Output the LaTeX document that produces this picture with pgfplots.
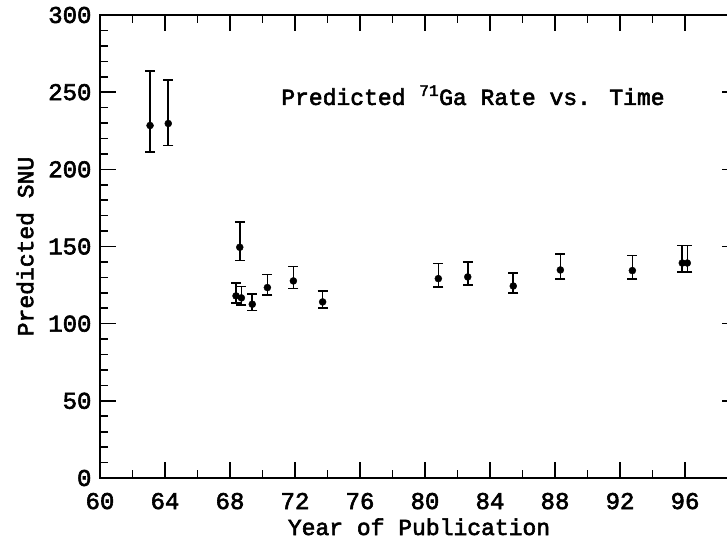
\documentclass[border=0pt]{standalone}
\usepackage{pgfplots}
\pgfplotsset{compat=1.18}
\usepackage{fontspec}
\setmainfont[FakeBold=2.5]{Liberation Mono}
\pgfplotstableread{
x y ep em
63.08 228.4 35.2 17.1
64.20 229.7 28.0 14.3
68.60 149.5 16.2 8.6
68.37 118.0 8.2 4.6
68.70 116.7 7.3 4.6
69.37 112.6 6.6 4.1
70.30 123.4 8.4 4.8
71.90 127.7 9.3 5.0
73.70 114.1 6.9 4.1
80.82 129.2 9.9 5.4
82.63 130.3 9.5 5.4
85.43 124.4 8.5 4.5
88.33 134.8 10.2 5.8
92.76 134.4 9.9 5.6
95.83 139.3 11.3 5.8
96.14 139.3 11.3 5.8
}\gadata
\begin{document}
\begin{tikzpicture}[font=\fontsize{23}{27}\selectfont]
\begin{axis}[
  scale only axis,
  width=638pt, height=463pt,
  xmin=60, xmax=99.26, ymin=0, ymax=300,
  xtick={60,64,...,96}, minor x tick num=1,
  xticklabels={60,64,68,72,76,80,84,88,92,96},
  ytick={0,50,...,300}, minor y tick num=4,
  yticklabels={0,50,100,150,200,250,300},
  tick align=inside,
  major tick length=16pt, minor tick length=8pt,
  axis line style={line width=1.6pt},
  every tick/.style={line width=1.6pt, black},
  every tick label/.append style={font=\fontsize{24}{28}\selectfont},
  xticklabel style={anchor=base, yshift=-31pt},
  yticklabel style={xshift=-5pt},
  xlabel={Year of Publication},
  ylabel={Predicted SNU},
  xlabel style={at={(axis description cs:0.5,0)}, anchor=base, yshift=-57pt},
  ylabel style={at={(axis description cs:-0.1175,0.5)}, anchor=center},
  clip=false,
]
\addplot[only marks, mark=*, mark size=3.5pt, black,
  error bars/.cd, y dir=both, y explicit,
  error bar style={line width=1.6pt, black},
  error mark options={rotate=90, mark size=5pt, line width=1.6pt, black}]
  table[x=x, y=y, y error plus=ep, y error minus=em] {\gadata};
\node at (axis cs:82.95,248) {Predicted \textsuperscript{71}Ga Rate vs. Time};
\end{axis}
\pgfresetboundingbox
\path[use as bounding box] (-100pt,-64pt) rectangle (627pt,478pt);
\end{tikzpicture}
\end{document}
